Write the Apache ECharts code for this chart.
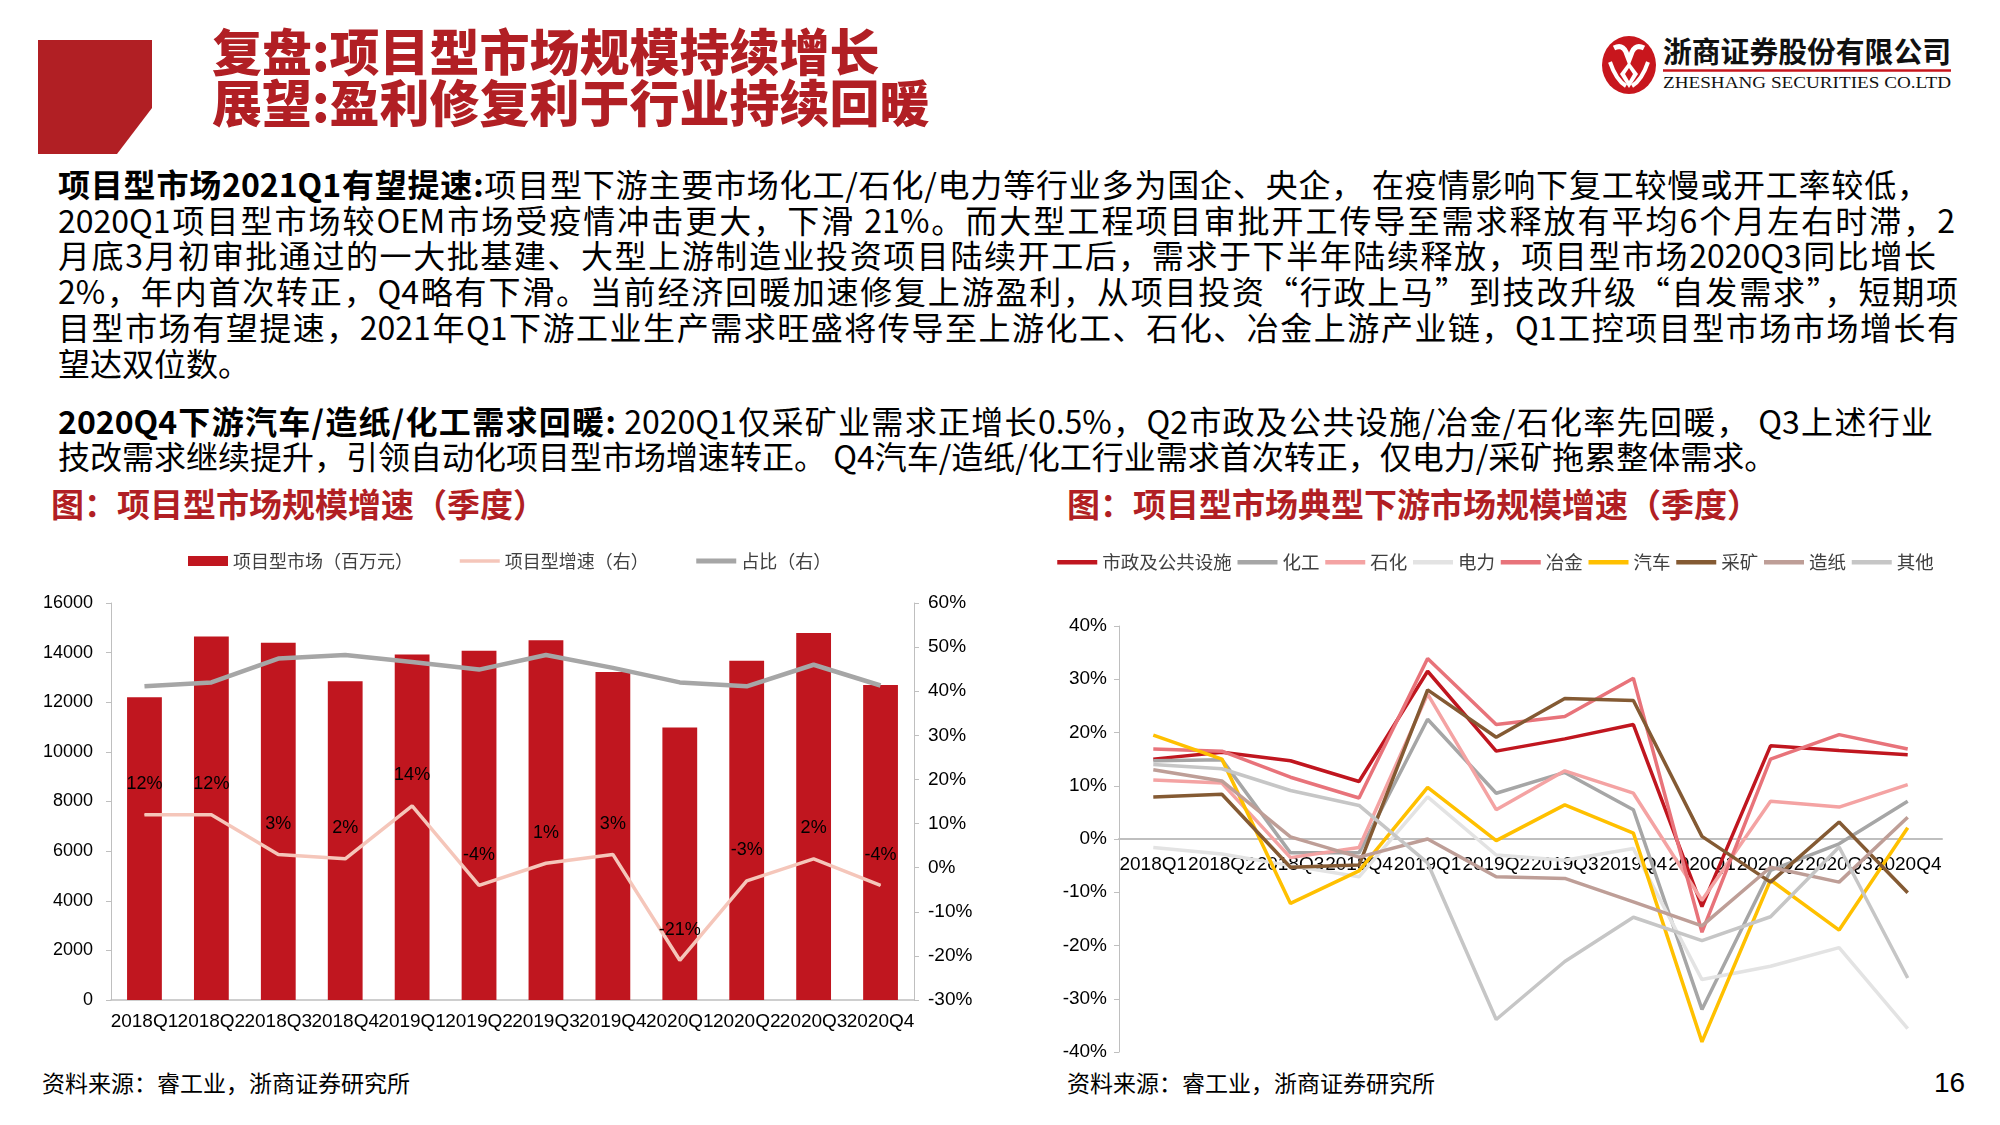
<!DOCTYPE html>
<html><head><meta charset="utf-8">
<script src="https://cdn.jsdelivr.net/npm/echarts@6/dist/echarts.min.js"></script>
<style>
html,body{margin:0;padding:0;background:#fff;}
#page{position:relative;width:2000px;height:1125px;overflow:hidden;background:#fff;font-family:"Noto Sans CJK SC",sans-serif;}
#deco{position:absolute;left:0;top:0;}
#chart{position:absolute;left:0;top:0;width:2000px;height:1125px;}
.title{position:absolute;left:212px;font-size:50px;font-weight:900;color:#B11F24;line-height:50px;white-space:nowrap;}
.body{position:absolute;left:58px;font-size:32px;line-height:36px;color:#000;text-align:justify;text-align-last:justify;}
.body.last{text-align-last:left;}
.body b{font-weight:700;}
.sec{position:absolute;font-size:33px;font-weight:700;color:#B11F24;line-height:36px;white-space:nowrap;}
.src{position:absolute;font-size:23px;color:#000;line-height:30px;white-space:nowrap;}
</style></head>
<body><div id="page">
<svg id="deco" width="2000" height="1125" xmlns="http://www.w3.org/2000/svg">
  <polygon points="38,40 152,40 152,108 117,154 38,154" fill="#B11F24"/>
  <ellipse cx="1629" cy="65" rx="27" ry="29" fill="#C8161D"/>
  <path d="M1614,48 Q1622,44 1626,52 L1629,60 L1632,52 Q1636,44 1644,48" stroke="#fff" stroke-width="5" fill="none"/>
  <path d="M1629,62 L1638,74 L1629,88 L1620,74 Z" fill="#fff"/>
  <path d="M1629,68 L1633,74 L1629,81 L1625,74 Z" fill="#C8161D"/>
  <path d="M1610,62 Q1616,80 1626,86" stroke="#fff" stroke-width="4" fill="none"/>
  <path d="M1648,62 Q1642,80 1632,86" stroke="#fff" stroke-width="4" fill="none"/>
  <text x="1663" y="63" font-family="Noto Sans CJK SC" font-weight="700" font-size="29" textLength="288" lengthAdjust="spacingAndGlyphs" fill="#111">浙商证券股份有限公司</text>
  <line x1="1663" y1="70.5" x2="1951" y2="70.5" stroke="#C8161D" stroke-width="2.5"/>
  <text x="1663" y="88" font-family="Liberation Serif" font-size="17" textLength="288" lengthAdjust="spacingAndGlyphs" fill="#111">ZHESHANG SECURITIES CO.LTD</text>
</svg>
<div class="title" style="top:24px">复盘:项目型市场规模持续增长</div>
<div class="title" style="top:75px">展望:盈利修复利于行业持续回暖</div>

<div class="body" style="top:165px;width:1871px"><b>项目型市场2021Q1有望提速:</b>项目型下游主要市场化工/石化/电力等行业多为国企、央企， 在疫情影响下复工较慢或开工率较低，</div>
<div class="body" style="top:201px;width:1897px">2020Q1项目型市场较OEM市场受疫情冲击更大，下滑 21%。而大型工程项目审批开工传导至需求释放有平均6个月左右时滞，2</div>
<div class="body" style="top:236px;width:1878px">月底3月初审批通过的一大批基建、大型上游制造业投资项目陆续开工后，需求于下半年陆续释放，项目型市场2020Q3同比增长</div>
<div class="body" style="top:272px;width:1900px">2%，年内首次转正，Q4略有下滑。当前经济回暖加速修复上游盈利，从项目投资“行政上马”到技改升级“自发需求”，短期项</div>
<div class="body" style="top:308px;width:1901px">目型市场有望提速，2021年Q1下游工业生产需求旺盛将传导至上游化工、石化、冶金上游产业链，Q1工控项目型市场市场增长有</div>
<div class="body last" style="top:344px;width:1900px">望达双位数。</div>
<div class="body" style="top:402px;width:1875px"><b>2020Q4下游汽车/造纸/化工需求回暖:</b> 2020Q1仅采矿业需求正增长0.5%，Q2市政及公共设施/冶金/石化率先回暖， Q3上述行业</div>
<div class="body last" style="top:437px;width:1900px">技改需求继续提升，引领自动化项目型市场增速转正。 Q4汽车/造纸/化工行业需求首次转正，仅电力/采矿拖累整体需求。</div>

<div class="sec" style="left:51px;top:485px">图：项目型市场规模增速（季度）</div>
<div class="sec" style="left:1067px;top:485px">图：项目型市场典型下游市场规模增速（季度）</div>
<div class="src" style="left:42px;top:1067px">资料来源：睿工业，浙商证券研究所</div>
<div class="src" style="left:1067px;top:1067px">资料来源：睿工业，浙商证券研究所</div>
<div class="src" style="left:1934px;top:1068px;font-size:28px;font-family:'Liberation Sans',Arial,sans-serif">16</div>
<div id="chart"></div>
</div>
<script>
// ---------- data ----------
const categories = ['2018Q1','2018Q2','2018Q3','2018Q4','2019Q1','2019Q2','2019Q3','2019Q4','2020Q1','2020Q2','2020Q3','2020Q4'];
const marketSize = [12200, 14650, 14400, 12850, 13920, 14080, 14500, 13220, 10980, 13670, 14790, 12700];
const growthRate = [12, 12, 3, 2, 14, -4, 1, 3, -21, -3, 2, -4];
const shareRatio = [41.1, 42.0, 47.4, 48.2, 46.6, 44.9, 48.2, 45.3, 42.0, 41.1, 46.0, 41.3];
const leftLegend = ['项目型市场（百万元）', '项目型增速（右）', '占比（右）'];

const downstreamNames = ['市政及公共设施','化工','石化','电力','冶金','汽车','采矿','造纸','其他'];
const shizheng = [15.0, 16.3, 14.7, 10.8, 31.5, 16.5, 18.8, 21.5, -12.7, 17.5, 16.6, 15.8];
const huagong  = [14.7, 14.9, -2.6, -2.6, 22.5, 8.6, 12.5, 5.5, -32.0, -5.9, -0.9, 7.1];
const shihua   = [11.1, 10.5, -3.5, -1.6, 27.2, 5.5, 12.8, 8.6, -11.5, 7.1, 6.0, 10.2];
const dianli   = [-1.6, -2.8, -5.0, -7.1, 7.9, -3.0, -4.0, -1.8, -26.4, -23.9, -20.4, -35.6];
const yejin    = [16.9, 16.5, 11.6, 7.7, 33.9, 21.5, 23.0, 30.2, -17.5, 15.0, 19.6, 16.9];
const qiche    = [19.5, 15.0, -12.1, -6.0, 9.7, -0.3, 6.4, 1.1, -38.1, -7.7, -17.1, 2.1];
const caikuang = [7.9, 8.4, -5.3, -4.9, 28.0, 19.1, 26.4, 26.0, 0.5, -8.1, 3.2, -10.1];
const zaozhi   = [13.0, 10.9, 0.4, -3.4, 0.0, -7.1, -7.4, -11.8, -16.3, -5.3, -8.1, 4.1];
const qita     = [14.0, 13.2, 9.1, 6.3, -4.5, -33.9, -23.0, -14.7, -19.1, -14.6, -1.5, -26.1];
const downstreamValues = [shizheng, huagong, shihua, dianli, yejin, qiche, caikuang, zaozhi, qita];
const downstreamColors = ['#C0161F','#A6A6A6','#F4A3A3','#E3E3E3','#E8737A','#FFC000','#845A33','#BE9E97','#C6C6C6'];

// ---------- chart ----------
const NUM = '"Liberation Sans",Arial,sans-serif';
const CJK = '"Noto Sans CJK SC",sans-serif';
const axisGray = '#BFBFBF';
const chart = echarts.init(document.getElementById('chart'), null, {renderer:'canvas'});

const rightSeries = downstreamNames.map((n, i) => ({
  name: n, type: 'line', xAxisIndex: 1, yAxisIndex: 2,
  data: downstreamValues[i], symbol: 'none', smooth: false,
  lineStyle: {color: downstreamColors[i], width: 3.5},
  itemStyle: {color: downstreamColors[i]}
}));

// right grid geometry (0% sits in the middle of a symmetric -40..40 axis)
const rGridTop = 626, rGridH = 426;

chart.setOption({
  animation: false,
  grid: [
    {left: 111, top: 603, width: 803, height: 397},
    {left: 1119, top: rGridTop, width: 823, height: rGridH}
  ],
  legend: [
    {data: [
       {name: leftLegend[0], icon: 'rect'},
       {name: leftLegend[1], itemStyle: {opacity: 0}, lineStyle: {width: 3.5}},
       {name: leftLegend[2], itemStyle: {opacity: 0}, lineStyle: {width: 5}}
     ],
     left: 183, top: 547, itemGap: 45, itemWidth: 40, itemHeight: 10,
     textStyle: {fontSize: 18, fontFamily: CJK, color: '#404040'}},
    {data: downstreamNames.map(n => ({name: n, itemStyle: {opacity: 0}, lineStyle: {width: 4.5}})),
     left: 1050, top: 548, itemGap: 3.5, itemWidth: 40, itemHeight: 10,
     textStyle: {fontSize: 18.5, fontFamily: CJK, color: '#404040'}}
  ],
  xAxis: [
    {type: 'category', gridIndex: 0, data: categories,
     axisLine: {lineStyle: {color: axisGray, width: 1.5}}, axisTick: {show: false},
     axisLabel: {interval: 0, fontSize: 19, color: '#000', margin: 12, fontFamily: NUM}},
    {type: 'category', gridIndex: 1, data: categories, position: 'bottom', offset: -rGridH / 2,
     axisLine: {onZero: false, lineStyle: {color: axisGray, width: 2}}, axisTick: {show: false},
     axisLabel: {interval: 0, fontSize: 19, color: '#000', margin: 16, fontFamily: NUM}}
  ],
  yAxis: [
    {type: 'value', gridIndex: 0, min: 0, max: 16000, interval: 2000,
     axisLine: {show: true, lineStyle: {color: axisGray}},
     axisTick: {show: true, length: 5, lineStyle: {color: axisGray}},
     splitLine: {show: false},
     axisLabel: {formatter: v => String(v), fontSize: 18, color: '#000', margin: 18, fontFamily: NUM}},
    {type: 'value', gridIndex: 0, position: 'right', min: -30, max: 60, interval: 10,
     axisLine: {show: true, lineStyle: {color: axisGray}},
     axisTick: {show: true, length: 5, lineStyle: {color: axisGray}},
     splitLine: {show: false},
     axisLabel: {formatter: v => v + '%', fontSize: 19, color: '#000', margin: 14, fontFamily: NUM}},
    {type: 'value', gridIndex: 1, min: -40, max: 40, interval: 10,
     axisLine: {show: true, lineStyle: {color: axisGray}},
     axisTick: {show: true, length: 5, lineStyle: {color: axisGray}},
     splitLine: {show: false},
     axisLabel: {formatter: v => v + '%', fontSize: 19, color: '#000', margin: 12, fontFamily: NUM}}
  ],
  series: [
    {name: leftLegend[0], type: 'bar', xAxisIndex: 0, yAxisIndex: 0, data: marketSize,
     barCategoryGap: '48%', itemStyle: {color: '#C0161F'}},
    {name: leftLegend[1], type: 'line', xAxisIndex: 0, yAxisIndex: 1, data: growthRate,
     symbol: 'circle', symbolSize: 1, showSymbol: true,
     lineStyle: {color: '#F5C6BA', width: 3.5}, itemStyle: {color: '#F5C6BA'},
     label: {show: true, position: 'top', distance: 21, formatter: p => p.value + '%',
             fontSize: 18, color: '#000', fontFamily: NUM}, z: 3},
    {name: leftLegend[2], type: 'line', xAxisIndex: 0, yAxisIndex: 1, data: shareRatio,
     symbol: 'none', lineStyle: {color: '#A6A6A6', width: 4.5}, itemStyle: {color: '#A6A6A6'}, z: 4}
  ].concat(rightSeries)
});
</script>
</body></html>
